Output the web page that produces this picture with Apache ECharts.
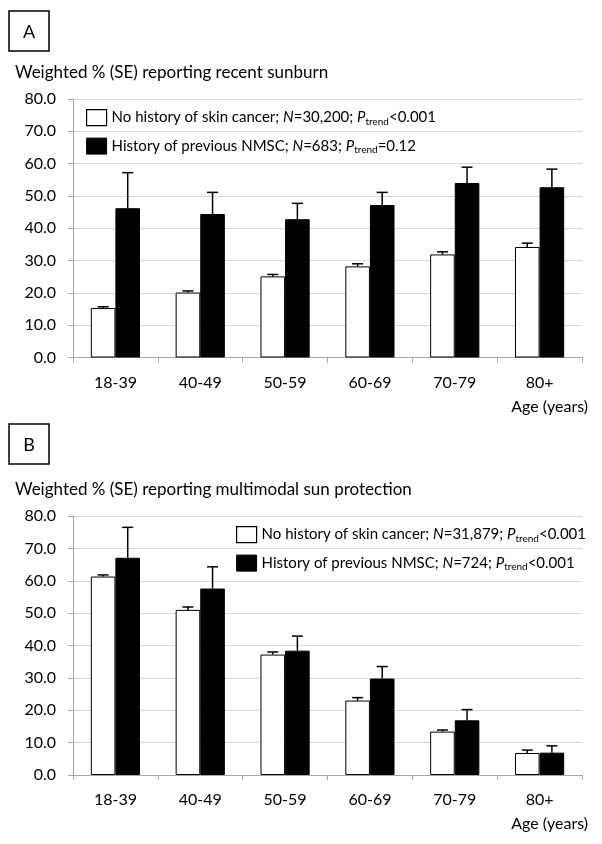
<!DOCTYPE html>
<html>
<head>
<meta charset="utf-8">
<script src="https://cdn.jsdelivr.net/npm/echarts@6/dist/echarts.min.js"></script>
<style>
  html, body { margin: 0; padding: 0; background: #fff; }
  #chart { width: 602px; height: 844px; }
</style>
</head>
<body>
<div id="chart"></div>
<script>
// ---- Data ----
const categories = ['18-39', '40-49', '50-59', '60-69', '70-79', '80+'];

// Panel A: recent sunburn
const sunburnNoHistory = [15.3, 20.1, 25.1, 28.2, 31.9, 34.2];
const sunburnNoHistorySE = [0.4, 0.5, 0.6, 0.8, 0.8, 1.2];
const sunburnNMSC = [46.2, 44.4, 42.8, 47.2, 54.0, 52.7];
const sunburnNMSCSE = [11.0, 6.7, 4.9, 3.9, 4.9, 5.6];

// Panel B: multimodal sun protection
const protectNoHistory = [61.3, 51.0, 37.2, 23.0, 13.4, 6.8];
const protectNoHistorySE = [0.5, 0.9, 0.8, 0.9, 0.5, 0.9];
const protectNMSC = [67.1, 57.6, 38.4, 29.8, 16.9, 6.9];
const protectNMSCSE = [9.4, 6.7, 4.5, 3.7, 3.3, 2.1];

const yTicks = [0, 10, 20, 30, 40, 50, 60, 70, 80];

const titleA = 'Weighted % (SE) reporting recent sunburn';
const titleB = 'Weighted % (SE) reporting multimodal sun protection';
const xName = 'Age (years)';

// legend parts: lead text, N value, P relation
const legendA = [
  { lead: 'No history of skin cancer; ', n: '=30,200; ', p: '<0.001' },
  { lead: 'History of previous NMSC; ', n: '=683; ', p: '=0.12' }
];
const legendB = [
  { lead: 'No history of skin cancer; ', n: '=31,879; ', p: '<0.001' },
  { lead: 'History of previous NMSC; ', n: '=724; ', p: '<0.001' }
];

// ---- Build ----
const FONT = 'Lato, "Open Sans", sans-serif';
const plain = o => o.lead + 'N' + o.n + 'Ptrend' + o.p;
const rich = o => '{t|' + o.lead + '}{i|N}{t|' + o.n + '}{i|P}{s|trend}{t|' + o.p + '}';
const richMap = {};
[...legendA, ...legendB].forEach(o => { richMap[plain(o)] = rich(o); });

const nameA = legendA.map(plain);
const nameB = legendB.map(plain);

const BAR_FRAC = 0.29;
function errRender(side) {
  return function (params, api) {
    const i = api.value(0), v = api.value(1), se = api.value(2);
    const base = api.coord([i, v]);
    const top = api.coord([i, v + se]);
    const bw = api.size([1, 0])[0] * BAR_FRAC;
    const x = base[0] + side * bw / 2;
    const cap = 5.5;
    const st = { stroke: '#000', lineWidth: 1.5 };
    return {
      type: 'group',
      children: [
        { type: 'line', shape: { x1: x, y1: base[1], x2: x, y2: top[1] }, style: st },
        { type: 'line', shape: { x1: x - cap, y1: top[1], x2: x + cap, y2: top[1] }, style: st }
      ]
    };
  };
}

const axisColor = '#a6a6a6';
function xAxisFor(idx) {
  return {
    type: 'category', gridIndex: idx, data: categories,
    axisLine: { lineStyle: { color: axisColor, width: 1 } },
    axisTick: { show: true, length: 5, lineStyle: { color: axisColor } },
    axisLabel: { margin: 17, fontSize: 16, color: '#000', fontFamily: FONT },
    name: xName, nameLocation: 'end', nameGap: 6,
    nameTextStyle: { fontSize: 16, color: '#000', fontFamily: FONT, align: 'right', verticalAlign: 'top', padding: [41, 0, 0, 0] }
  };
}
function yAxisFor(idx) {
  return {
    type: 'value', gridIndex: idx, min: yTicks[0], max: yTicks[yTicks.length - 1], interval: yTicks[1] - yTicks[0],
    axisLine: { show: true, lineStyle: { color: axisColor, width: 1 } },
    axisTick: { show: true, length: 5, lineStyle: { color: axisColor } },
    axisLabel: { margin: 17, fontSize: 16, color: '#000', fontFamily: FONT, formatter: v => v.toFixed(1) },
    splitLine: { lineStyle: { color: '#d9d9d9', width: 1 } }
  };
}
function legendFor(names, left, top) {
  return {
    data: [
      { name: names[0], itemStyle: { color: '#fff', borderColor: '#000', borderWidth: 1.2 } },
      { name: names[1], itemStyle: { color: '#000', borderColor: '#000', borderWidth: 1 } }
    ],
    orient: 'vertical', left: left, top: top, padding: 0,
    icon: 'rect', itemWidth: 20, itemHeight: 16, itemGap: 11,
    selectedMode: false,
    formatter: n => richMap[n],
    textStyle: {
      color: '#000', fontFamily: FONT, fontSize: 15,
      rich: {
        t: { fontSize: 15, fontFamily: FONT, color: '#000', lineHeight: 18 },
        i: { fontSize: 15, fontFamily: FONT, color: '#000', fontStyle: 'italic', lineHeight: 18 },
        s: { fontSize: 10, fontFamily: FONT, color: '#000', verticalAlign: 'bottom', lineHeight: 18, padding: [6, 0, 0, 0] }
      }
    }
  };
}
function barSeries(name, data, ax, white) {
  return {
    type: 'bar', name: name, xAxisIndex: ax, yAxisIndex: ax, data: data,
    barWidth: (BAR_FRAC * 100) + '%', barGap: '0%',
    itemStyle: white ? { color: '#fff', borderColor: '#000', borderWidth: 1 } : { color: '#000', borderColor: '#000', borderWidth: 1 },
    emphasis: { disabled: true }
  };
}
function errSeries(vals, ses, ax, side) {
  return {
    type: 'custom', xAxisIndex: ax, yAxisIndex: ax, silent: true, z: 10,
    encode: { x: 0, y: 1 },
    data: vals.map((v, i) => [i, v, ses[i]]),
    renderItem: errRender(side)
  };
}

const chart = echarts.init(document.getElementById('chart'), null, { renderer: 'canvas' });
chart.setOption({
  backgroundColor: '#fff',
  animation: false,
  textStyle: { fontFamily: FONT },
  title: [
    { text: titleA, left: 15, top: 64, padding: 0, textStyle: { fontSize: 17, fontWeight: 'normal', color: '#000', fontFamily: FONT } },
    { text: titleB, left: 15, top: 481, padding: 0, textStyle: { fontSize: 17, fontWeight: 'normal', color: '#000', fontFamily: FONT } }
  ],
  graphic: [
    { type: 'rect', shape: { x: 9, y: 11, width: 40, height: 40 }, style: { fill: '#fff', stroke: '#000', lineWidth: 1.5 } },
    { type: 'text', x: 29, y: 32, style: { text: 'A', fontSize: 18, fontFamily: FONT, fill: '#000', align: 'center', verticalAlign: 'middle' } },
    { type: 'rect', shape: { x: 9, y: 424, width: 40, height: 40 }, style: { fill: '#fff', stroke: '#000', lineWidth: 1.5 } },
    { type: 'text', x: 29, y: 445, style: { text: 'B', fontSize: 18, fontFamily: FONT, fill: '#000', align: 'center', verticalAlign: 'middle' } }
  ],
  legend: [legendFor(nameA, 86, 109), legendFor(nameB, 236, 526)],
  grid: [
    { left: 73, right: 20, top: 99, height: 258.5 },
    { left: 73, right: 20, top: 516, height: 259 }
  ],
  xAxis: [xAxisFor(0), xAxisFor(1)],
  yAxis: [yAxisFor(0), yAxisFor(1)],
  series: [
    barSeries(nameA[0], sunburnNoHistory, 0, true),
    barSeries(nameA[1], sunburnNMSC, 0, false),
    errSeries(sunburnNoHistory, sunburnNoHistorySE, 0, -1),
    errSeries(sunburnNMSC, sunburnNMSCSE, 0, 1),
    barSeries(nameB[0], protectNoHistory, 1, true),
    barSeries(nameB[1], protectNMSC, 1, false),
    errSeries(protectNoHistory, protectNoHistorySE, 1, -1),
    errSeries(protectNMSC, protectNMSCSE, 1, 1)
  ]
});
</script>
</body>
</html>
